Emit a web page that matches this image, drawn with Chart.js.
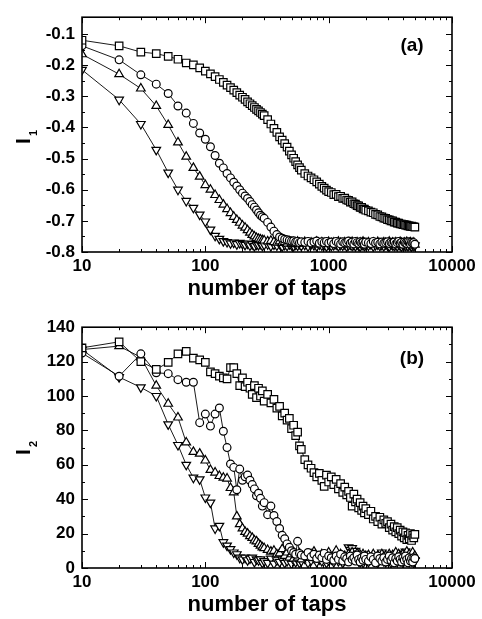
<!DOCTYPE html>
<html>
<head>
<meta charset="utf-8">
<script src="https://cdn.jsdelivr.net/npm/chart.js@4.4.1/dist/chart.umd.min.js"></script>
<style>
  html, body { margin: 0; padding: 0; background: #fff; }
  canvas { display: block; }
</style>
</head>
<body>
<canvas id="panel-a" width="482" height="310" style="width:482px;height:310px"></canvas>
<canvas id="panel-b" width="482" height="309" style="width:482px;height:309px"></canvas>
<script>
// tap counts shared by every series
const taps = [
  10, 20, 30, 40, 50, 60, 70, 80, 90, 100,
  110, 120, 130, 140, 150, 160, 170, 180, 190, 200,
  210, 220, 230, 240, 250, 260, 270, 280, 290, 300,
  320, 340, 360, 380, 400, 420, 440, 460, 480, 500, 520, 540, 560, 580, 600,
  640, 680, 720, 760, 800, 840, 880, 920, 960, 1000,
  1050, 1100, 1150, 1200, 1250, 1300, 1350, 1400, 1450, 1500,
  1550, 1600, 1650, 1700, 1750, 1800, 1850, 1900, 1950, 2000,
  2100, 2200, 2300, 2400, 2500, 2600, 2700, 2800, 2900, 3000,
  3100, 3200, 3300, 3400, 3500, 3600, 3700, 3800, 3900, 4000,
  4100, 4200, 4300, 4400, 4500, 4600, 4700, 4800, 4900, 5000
];

// panel (a): I1
const i1Square = [
  -0.120, -0.138, -0.158, -0.163, -0.172, -0.181, -0.193, -0.199, -0.209, -0.219,
  -0.228, -0.237, -0.246, -0.255, -0.264, -0.272, -0.280, -0.288, -0.296, -0.303,
  -0.310, -0.318, -0.324, -0.330, -0.336, -0.342, -0.347, -0.352, -0.357, -0.362,
  -0.375, -0.389, -0.403, -0.416, -0.430, -0.441, -0.452, -0.463, -0.476, -0.488, -0.499, -0.510, -0.520, -0.529, -0.537,
  -0.548, -0.556, -0.562, -0.568, -0.575, -0.582, -0.589, -0.595, -0.601, -0.606,
  -0.609, -0.616, -0.615, -0.622, -0.621, -0.628, -0.627, -0.633, -0.634, -0.640,
  -0.639, -0.645, -0.646, -0.651, -0.652, -0.657, -0.657, -0.662, -0.662, -0.666,
  -0.668, -0.672, -0.674, -0.679, -0.681, -0.686, -0.687, -0.691, -0.692, -0.696,
  -0.697, -0.700, -0.700, -0.704, -0.704, -0.707, -0.707, -0.710, -0.710, -0.712,
  -0.712, -0.714, -0.714, -0.716, -0.716, -0.718, -0.717, -0.719, -0.719, -0.720
];
const i1Circle = [
  -0.138, -0.183, -0.231, -0.261, -0.291, -0.331, -0.354, -0.387, -0.418, -0.438,
  -0.462, -0.490, -0.515, -0.530, -0.548, -0.562, -0.576, -0.588, -0.600, -0.611,
  -0.620, -0.628, -0.638, -0.648, -0.656, -0.665, -0.674, -0.682, -0.687, -0.692,
  -0.705, -0.720, -0.733, -0.744, -0.752, -0.756, -0.759, -0.761, -0.763, -0.765, -0.764, -0.768, -0.766, -0.770, -0.767,
  -0.769, -0.766, -0.771, -0.768, -0.765, -0.772, -0.767, -0.770, -0.766, -0.771,
  -0.768, -0.773, -0.766, -0.770, -0.774, -0.767, -0.771, -0.769, -0.765, -0.772,
  -0.768, -0.774, -0.766, -0.770, -0.773, -0.767, -0.771, -0.769, -0.775, -0.768,
  -0.770, -0.773, -0.766, -0.771, -0.769, -0.774, -0.768, -0.772, -0.770, -0.767,
  -0.773, -0.769, -0.771, -0.768, -0.774, -0.770, -0.766, -0.772, -0.769, -0.775,
  -0.768, -0.771, -0.773, -0.767, -0.770, -0.774, -0.769, -0.772, -0.770, -0.775
];
const i1Up = [
  -0.165, -0.229, -0.275, -0.331, -0.392, -0.448, -0.494, -0.530, -0.558, -0.585,
  -0.600, -0.617, -0.633, -0.648, -0.662, -0.675, -0.687, -0.697, -0.706, -0.715,
  -0.722, -0.730, -0.738, -0.745, -0.750, -0.755, -0.758, -0.760, -0.762, -0.763,
  -0.766, -0.764, -0.768, -0.770, -0.766, -0.771, -0.768, -0.773, -0.766, -0.772, -0.769, -0.775, -0.767, -0.771, -0.774,
  -0.768, -0.772, -0.770, -0.776, -0.767, -0.773, -0.769, -0.771, -0.775, -0.768,
  -0.772, -0.770, -0.774, -0.767, -0.771, -0.776, -0.769, -0.773, -0.770, -0.772,
  -0.768, -0.774, -0.771, -0.769, -0.775, -0.770, -0.773, -0.767, -0.772, -0.776,
  -0.769, -0.773, -0.770, -0.775, -0.768, -0.772, -0.776, -0.769, -0.771, -0.774,
  -0.767, -0.773, -0.770, -0.776, -0.769, -0.772, -0.775, -0.768, -0.771, -0.774,
  -0.770, -0.773, -0.768, -0.776, -0.771, -0.769, -0.774, -0.772, -0.770, -0.776
];
const i1Down = [
  -0.215, -0.311, -0.389, -0.472, -0.545, -0.600, -0.636, -0.658, -0.680, -0.702,
  -0.728, -0.748, -0.758, -0.765, -0.768, -0.772, -0.770, -0.775, -0.771, -0.774,
  -0.777, -0.773, -0.779, -0.775, -0.781, -0.776, -0.778, -0.774, -0.780, -0.777,
  -0.775, -0.781, -0.776, -0.779, -0.774, -0.782, -0.777, -0.780, -0.775, -0.778, -0.781, -0.776, -0.779, -0.774, -0.780,
  -0.777, -0.782, -0.775, -0.778, -0.781, -0.776, -0.779, -0.777, -0.782, -0.775,
  -0.780, -0.778, -0.776, -0.781, -0.777, -0.779, -0.775, -0.782, -0.778, -0.776,
  -0.780, -0.777, -0.781, -0.775, -0.779, -0.782, -0.776, -0.778, -0.780, -0.777,
  -0.779, -0.775, -0.782, -0.778, -0.776, -0.780, -0.777, -0.781, -0.775, -0.779,
  -0.782, -0.776, -0.778, -0.780, -0.777, -0.781, -0.775, -0.779, -0.782, -0.776,
  -0.778, -0.780, -0.777, -0.781, -0.776, -0.779, -0.782, -0.777, -0.780, -0.779
];

// panel (b): I2
const i2Square = [
  128, 131.5, 120, 115.5, 119.5, 124.5, 126, 122, 121, 119.5,
  114, 113, 111.5, 110.5, 110, 116.5, 116.5, 113, 106, 110.5,
  105.5, 108, 104.5, 101, 106, 99, 104.5, 100, 103, 97,
  101, 96, 98, 93, 94, 88.5, 90, 86, 87, 81, 83, 77, 79, 71, 69,
  63, 60, 58, 55.5, 53, 55, 51, 47.5, 54, 50,
  53, 48.5, 51.5, 46, 49, 44, 47, 42.5, 44.5, 41,
  36, 43, 38.5, 40, 35, 38, 33.5, 36, 32, 34.5,
  31, 33, 28.5, 30, 27, 29.5, 25.5, 28, 26, 27,
  23.5, 25.5, 22, 24, 21, 23.5, 20, 22, 18.5, 21,
  17.5, 20.5, 16.5, 19, 17, 20, 16, 19, 17.5, 19.5
];
const i2Circle = [
  125, 111.5, 124.5, 113.5, 113, 109.5, 108, 108, 84.5, 89.5,
  82.5, 89.5, 93, 79.5, 70, 60.5, 58.5, 45.5, 57.5, 51,
  53, 54, 51, 48.5, 46, 42, 43.5, 40.5, 36, 38,
  31, 36, 30.5, 27, 23, 19, 17, 14, 12, 10, 9, 8, 15.5, 8.5, 7.5,
  7, 9, 6.5, 8, 5.5, 7.5, 6, 8.5, 5, 7,
  6, 4.5, 7, 5, 8, 4, 6.5, 5.5, 3.5, 7,
  5, 6, 4, 7.5, 5, 3.5, 6, 4.5, 7, 5,
  4, 6.5, 5, 3, 7, 5.5, 4, 6, 3.5, 5,
  7, 4.5, 6, 3, 5.5, 4, 6.5, 5, 3.5, 6,
  4.5, 7, 5, 3, 6, 4, 5.5, 3.5, 6, 5.5
];
const i2Up = [
  127, 129, 122.5, 106, 95.5, 87.5, 73, 67.5, 66.5, 62.5,
  57, 55.5, 53.5, 52.5, 52, 46.5, 44, 30, 25.5, 23,
  21, 20, 18.5, 17.5, 16, 15.5, 14, 13, 12, 11.5,
  10.5, 9.5, 10, 8, 8.5, 11, 7, 9, 6, 8, 5.5, 7.5, 6, 8.5, 5,
  7, 6, 8, 9.5, 7, 5.5, 8, 6.5, 7, 9,
  6, 7.5, 10, 5, 8, 6, 7, 5.5, 8, 6.5,
  9, 7, 5, 8.5, 6, 7.5, 5.5, 8, 6, 7,
  7.5, 5, 8, 6, 7, 5.5, 8, 6.5, 7, 5,
  8, 6, 7.5, 5, 9, 6, 8, 7, 5.5, 8,
  6.5, 7, 9.5, 6, 8, 5.5, 7, 9, 6, 7
];
const i2Down = [
  127, 111, 105, 100, 83.5, 71.5, 60, 52.5, 51.5, 41,
  38, 23, 24.5, 15, 13, 11, 9, 8, 6, 5,
  6, 4.5, 5.5, 6, 3.5, 5, 4.5, 5, 3, 4,
  3, 5.5, 2.5, 4.5, 3.5, 5, 3, 4, 6, 2.5, 4.5, 3.5, 5, 3, 4,
  5.5, 3, 4.5, 6, 3.5, 5, 4, 6.5, 3, 4.5,
  5, 3.5, 6, 4, 5.5, 3, 4.5, 5, 12, 10.5,
  11.5, 9, 10, 6, 4, 3.5, 5, 3, 4.5, 6,
  3.5, 5, 4, 6, 3, 5, 9, 4, 3.5, 4.5,
  5, 3, 6, 4, 5.5, 3.5, 5, 4, 6, 3,
  4.5, 9.5, 4, 5, 3.5, 6, 4, 5, 3, 4.5
];

const xTicks = [10, 100, 1000, 10000];
const i1Ticks = [-0.8, -0.7, -0.6, -0.5, -0.4, -0.3, -0.2, -0.1];
const i2Ticks = [0, 20, 40, 60, 80, 100, 120, 140];

const FONT = "'Liberation Sans', Arial, sans-serif";

function series(ys, style, radius, rotation) {
  return {
    data: taps.map((t, i) => ({ x: t, y: ys[i] })),
    showLine: true,
    borderColor: "#000",
    borderWidth: 0.9,
    pointStyle: style,
    pointRadius: radius,
    rotation: rotation || 0,
    pointBackgroundColor: "#fff",
    pointBorderColor: "#000",
    pointBorderWidth: 1.2,
  };
}

// box, inward ticks on all sides, axis titles and panel tag
const framePlugin = {
  id: "frame",
  afterDraw(chart, args, opts) {
    const { ctx, chartArea: a } = chart;
    const xs = chart.scales.x;
    const ys = chart.scales.y;
    ctx.save();
    ctx.strokeStyle = "#000";
    ctx.lineWidth = 1;
    ctx.beginPath();
    const xMinor = [];
    [10, 100, 1000].forEach((d) => {
      for (let m = 2; m <= 9; m++) xMinor.push(m * d);
    });
    xTicks.forEach((v) => {
      const p = Math.round(xs.getPixelForValue(v)) + 0.5;
      ctx.moveTo(p, a.bottom); ctx.lineTo(p, a.bottom - 6);
      ctx.moveTo(p, a.top); ctx.lineTo(p, a.top + 6);
    });
    xMinor.forEach((v) => {
      const p = Math.round(xs.getPixelForValue(v)) + 0.5;
      ctx.moveTo(p, a.bottom); ctx.lineTo(p, a.bottom - 3);
      ctx.moveTo(p, a.top); ctx.lineTo(p, a.top + 3);
    });
    opts.yTicks.forEach((v, i) => {
      const p = Math.round(ys.getPixelForValue(v)) + 0.5;
      ctx.moveTo(a.left, p); ctx.lineTo(a.left + 6, p);
      ctx.moveTo(a.right, p); ctx.lineTo(a.right - 6, p);
      if (i < opts.yTicks.length - 1) {
        const q = Math.round(ys.getPixelForValue((v + opts.yTicks[i + 1]) / 2)) + 0.5;
        ctx.moveTo(a.left, q); ctx.lineTo(a.left + 3, q);
        ctx.moveTo(a.right, q); ctx.lineTo(a.right - 3, q);
      }
    });
    ctx.stroke();
    ctx.lineWidth = 1.6;
    ctx.strokeRect(a.left, a.top, a.right - a.left, a.bottom - a.top);

    ctx.fillStyle = "#000";
    ctx.textAlign = "center";
    ctx.textBaseline = "alphabetic";
    ctx.font = "bold 22px " + FONT;
    ctx.fillText("number of taps", (a.left + a.right) / 2, a.bottom + 43);

    ctx.font = "bold 19px " + FONT;
    ctx.textBaseline = "middle";
    ctx.fillText(opts.tag, opts.tagX, opts.tagY);

    // rotated I with subscript
    ctx.translate(30, opts.titleY);
    ctx.rotate(-Math.PI / 2);
    ctx.textAlign = "left";
    ctx.textBaseline = "alphabetic";
    ctx.font = "bold 21px " + FONT;
    ctx.fillText("I", -3, 0);
    ctx.font = "bold 11px " + FONT;
    ctx.fillText(opts.sub, 5, 7);
    ctx.restore();
  },
};

function makePanel(id, sets, yMin, yMax, yTicks, fmt, padTop, xHeight, frame) {
  const tickFont = { family: FONT, size: 17, weight: "bold" };
  return new Chart(document.getElementById(id), {
    type: "scatter",
    data: { datasets: sets },
    plugins: [framePlugin],
    options: {
      responsive: false,
      animation: false,
      devicePixelRatio: 1,
      layout: { padding: { top: padTop, right: 30, left: 0, bottom: 0 } },
      plugins: {
        legend: { display: false },
        tooltip: { enabled: false },
        frame: Object.assign({ yTicks: yTicks }, frame),
      },
      scales: {
        x: {
          type: "logarithmic",
          min: 10,
          max: 10000,
          afterBuildTicks: (s) => { s.ticks = xTicks.map((v) => ({ value: v })); },
          afterFit: (s) => { s.height = xHeight; },
          grid: { display: false, drawTicks: false },
          border: { display: false },
          ticks: {
            font: tickFont, color: "#000", padding: 4,
            maxRotation: 0, autoSkip: false,
            callback: (v) => String(v),
          },
        },
        y: {
          min: yMin,
          max: yMax,
          afterBuildTicks: (s) => { s.ticks = yTicks.map((v) => ({ value: v })); },
          afterFit: (s) => { s.width = 82; },
          grid: { display: false, drawTicks: false },
          border: { display: false },
          ticks: { font: tickFont, color: "#000", padding: 7, callback: fmt },
        },
      },
    },
  });
}

makePanel("panel-a", [
  series(i1Square, "rect", 5.3),
  series(i1Circle, "circle", 3.9),
  series(i1Up, "triangle", 5),
  series(i1Down, "triangle", 5, 180),
], -0.8, -0.046, i1Ticks, (v) => v.toFixed(1), 5, 58,
  { tag: "(a)", tagX: 412, tagY: 46, titleY: 141, sub: "1" });

makePanel("panel-b", [
  series(i2Square, "rect", 5.3),
  series(i2Circle, "circle", 3.9),
  series(i2Up, "triangle", 5),
  series(i2Down, "triangle", 5, 180),
], 0, 140, i2Ticks, (v) => String(v), 12, 51,
  { tag: "(b)", tagX: 412, tagY: 49, titleY: 142, sub: "2" });
</script>
</body>
</html>
